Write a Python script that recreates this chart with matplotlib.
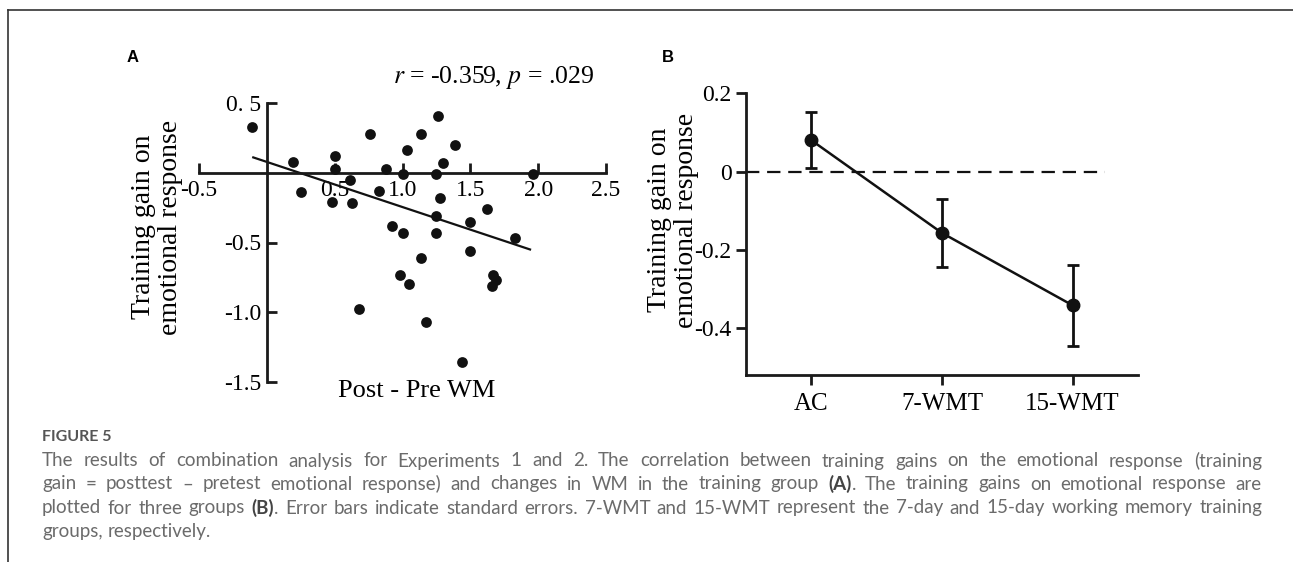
import re
import numpy as np
import matplotlib

matplotlib.use("Agg")
import matplotlib.pyplot as plt
from matplotlib.lines import Line2D

# panel A: change in WM vs training gain on emotional response
wm_change = [-0.11, 0.19, 0.25, 0.50, 0.50, 0.48, 0.61, 0.63, 0.76, 0.83,
             0.88, 0.92, 1.00, 1.00, 1.03, 0.98, 1.05, 1.14, 1.14, 1.17,
             1.26, 1.25, 1.28, 1.25, 1.25, 1.30, 1.39, 1.50, 1.50, 1.44,
             1.62, 1.67, 1.69, 1.66, 1.83, 1.96, 0.68]
emo_gain = [0.33, 0.075, -0.14, 0.12, 0.03, -0.21, -0.05, -0.22, 0.28, -0.13,
            0.03, -0.38, -0.01, -0.43, 0.16, -0.73, -0.80, 0.28, -0.61, -1.07,
            0.41, -0.01, -0.18, -0.31, -0.43, 0.07, 0.20, -0.35, -0.56, -1.36,
            -0.26, -0.73, -0.77, -0.81, -0.47, -0.01, -0.98]
fit_x = [-0.10, 1.94]
fit_y = [0.11, -0.55]
a_xticks = [-0.5, 0.5, 1.0, 1.5, 2.0, 2.5]
a_xticklabels = ["-0.5", "0.5", "1.0", "1.5", "2.0", "2.5"]
a_yticks = [0.5, -0.5, -1.0, -1.5]
a_yticklabels = ["0. 5", "-0.5", "-1.0", "-1.5"]

# panel B: group means with standard errors
groups = ["AC", "7-WMT", "15-WMT"]
group_mean = [0.08, -0.157, -0.342]
group_se = [0.072, 0.086, 0.103]
b_yticks = [0.2, 0.0, -0.2, -0.4]
b_yticklabels = ["0.2", "0", "-0.2", "-0.4"]

caption_title = "FIGURE 5"
caption_lines = [
    "The results of combination analysis for Experiments 1 and 2. The correlation between training gains on the emotional response (training",
    "gain = posttest \u2013 pretest emotional response) and changes in WM in the training group (A). The training gains on emotional response are",
    "plotted for three groups (B). Error bars indicate standard errors. 7-WMT and 15-WMT represent the 7-day and 15-day working memory training",
    "groups, respectively.",
]

W, H = 1293, 562
serif = "Liberation Serif"
fs = 17
lab_fs = 20

fig = plt.figure(figsize=(W / 100, H / 100), dpi=100)


def px_axes(left, top, right, bottom):
    return fig.add_axes([left / W, 1 - bottom / H, (right - left) / W, (bottom - top) / H])


# ---- panel A ----
ax = px_axes(199, 103, 606, 382)
ax.scatter(wm_change, emo_gain, s=60, color="#111111", zorder=3, linewidths=0)
ax.plot(fit_x, fit_y, color="#111111", lw=1.6, zorder=2)
ax.set_xlim(-0.5, 2.5)
ax.set_ylim(-1.5, 0.5)
for s in ["top", "right"]:
    ax.spines[s].set_visible(False)
ax.spines["left"].set_position(("data", 0))
ax.spines["bottom"].set_position(("data", 0))
for s in ["left", "bottom"]:
    ax.spines[s].set_linewidth(2)
    ax.spines[s].set_color("#1a1a1a")
ax.set_xticks(a_xticks)
ax.set_xticklabels(a_xticklabels, fontsize=fs, family=serif)
ax.set_yticks(a_yticks)
ax.set_yticklabels(a_yticklabels, fontsize=fs, family=serif)
ax.tick_params(axis="x", direction="in", length=7, width=2, pad=5, color="#1a1a1a")
ax.tick_params(axis="y", direction="in", length=7, width=2, pad=4, color="#1a1a1a")
ax.patch.set_visible(False)
fig.text(393 / W, 1 - 77 / H, r"$\it{r}$ = -0.359, $\it{p}$ = .029", fontsize=18.5, family=serif,
         va="center", ha="left", math_fontfamily="stix")
fig.text(157 / W, 1 - 227 / H, "Training gain on\nemotional response", rotation=90,
         fontsize=lab_fs, family=serif, ha="center", va="center", linespacing=1.1)
fig.text(417 / W, 1 - 391 / H, "Post - Pre WM", fontsize=19, family=serif,
         ha="center", va="center")

# ---- panel B ----
bx = px_axes(746, 93.3, 1138, 375)
xpos = np.arange(len(groups))
bx.plot([-0.5, 2.25], [0, 0], color="#111111", lw=1.6, ls=(0, (6, 3.5)), zorder=1)
bx.errorbar(xpos, group_mean, yerr=group_se, color="#111111", lw=1.8, elinewidth=2,
            capsize=4, capthick=2, marker="o", ms=9, zorder=3)
bx.set_xlim(-0.5, 2.5)
bx.set_ylim(-0.52, 0.2)
for s in ["top", "right"]:
    bx.spines[s].set_visible(False)
for s in ["left", "bottom"]:
    bx.spines[s].set_linewidth(2)
    bx.spines[s].set_color("#1a1a1a")
bx.set_xticks(xpos)
bx.set_xticklabels(groups, fontsize=fs + 1, family=serif)
bx.set_yticks(b_yticks)
bx.set_yticklabels(b_yticklabels, fontsize=fs, family=serif)
bx.tick_params(direction="out", length=7, width=2, color="#1a1a1a")
bx.tick_params(axis="x", pad=6)
bx.patch.set_visible(False)
fig.text(673 / W, 1 - 220 / H, "Training gain on\nemotional response", rotation=90,
         fontsize=lab_fs, family=serif, ha="center", va="center", linespacing=1.1)

# panel letters
fig.text(133 / W, 1 - 58 / H, "A", fontsize=12, weight="bold", family="Liberation Sans",
         ha="center", va="center")
fig.text(668 / W, 1 - 57 / H, "B", fontsize=12, weight="bold", family="Liberation Sans",
         ha="center", va="center")

# frame lines
fig.add_artist(Line2D([8 / W, 1], [1 - 9.5 / H, 1 - 9.5 / H], color="#333333", lw=1.2))
fig.add_artist(Line2D([8 / W, 8 / W], [1 - 9.5 / H, 0], color="#333333", lw=1.2))

# ---- caption, justified word by word ----
cap_font = "Lato"
cap_color = "#6b6b6b"
cap_size = 13.5
x0, x1 = 42, 1262
fig.text(x0 / W, 1 - 437 / H, caption_title, fontsize=11.5, weight="bold", family=cap_font,
         color="#555555", va="center")
renderer = fig.canvas.get_renderer()
line_y = [461, 484, 508, 532]
for i, line in enumerate(caption_lines):
    words = line.split(" ")
    pieces = []
    widths = []
    for w in words:
        segs = [p for p in re.split(r"(\([AB]\))", w) if p]
        texts = []
        for p in segs:
            wt = "bold" if re.fullmatch(r"\([AB]\)", p) else "normal"
            t = fig.text(0, 1 - line_y[i] / H, p, fontsize=cap_size, family=cap_font,
                         color=cap_color if wt == "normal" else "#444444", weight=wt,
                         va="center")
            texts.append(t)
        ws = [t.get_window_extent(renderer).width for t in texts]
        pieces.append((texts, ws))
        widths.append(sum(ws))
    last = i == len(caption_lines) - 1
    min_space = cap_size * 0.25
    space = (x1 - x0 - sum(widths)) / (len(words) - 1) if not last else cap_size * 0.35
    space = max(space, min_space)
    x = x0
    for texts, ws in pieces:
        for t, w in zip(texts, ws):
            t.set_x(x / W)
            x += w
        x += space

fig.savefig("out.png", dpi=100)
